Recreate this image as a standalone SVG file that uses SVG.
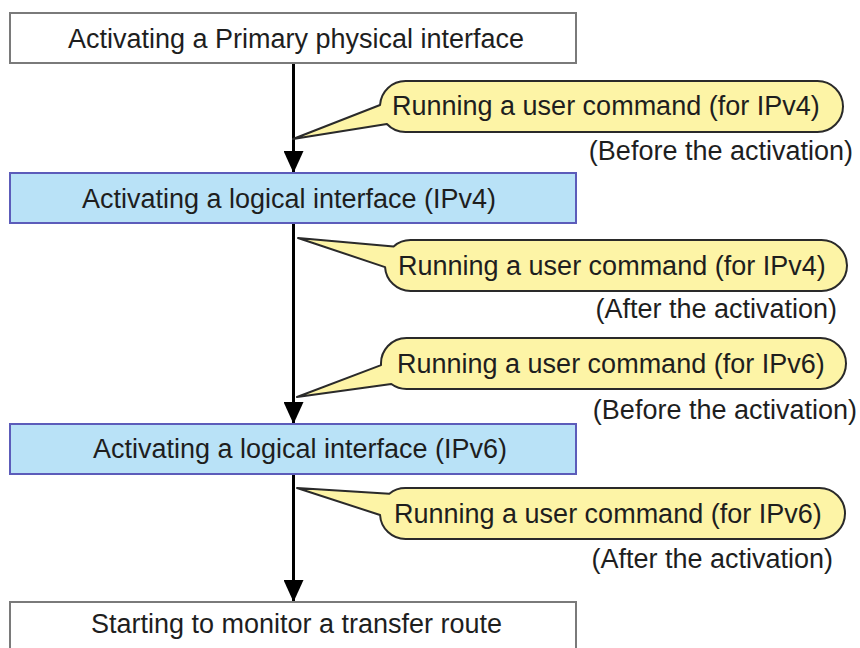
<svg xmlns="http://www.w3.org/2000/svg" width="860" height="648" viewBox="0 0 860 648">
<defs>
<style>
.t{font-family:"Liberation Sans",Arial,sans-serif;font-size:27px;fill:#1e1e1e}
.m{text-anchor:middle}
.e{text-anchor:end}
.plain{fill:#ffffff;stroke:#7a7a7a;stroke-width:2}
.blue{fill:#b9e2f7;stroke:#5c5cba;stroke-width:2}
.call{fill:#fdf4a6;stroke:#2a2a2a;stroke-width:2;stroke-linejoin:round}
.flow{stroke:#000;stroke-width:3;fill:none}
</style>
<marker id="ah" viewBox="0 0 22 20" refX="22" refY="10" markerWidth="22" markerHeight="20" markerUnits="userSpaceOnUse" orient="auto">
<path d="M0,0 L22,10 L0,20 Z" fill="#000"/>
</marker>
</defs>

<g id="connectors">
<line class="flow" x1="293.5" y1="63" x2="293.5" y2="173" marker-end="url(#ah)"/>
<line class="flow" x1="293.5" y1="223" x2="293.5" y2="424" marker-end="url(#ah)"/>
<line class="flow" x1="293.5" y1="474" x2="293.5" y2="602" marker-end="url(#ah)"/>
</g>

<g id="n1">
<rect class="plain" x="10" y="13" width="566" height="50"/>
<text class="t m" x="296" y="47.5">Activating a Primary physical interface</text>
</g>

<g id="c1">
<path class="call" d="M405.5,81 H817.5 A25.5,25.5 0 0 1 817.5,132 H405.5 A25.5,25.5 0 0 1 386.9,124 L293,139 L380.05,105 A25.5,25.5 0 0 1 405.5,81 Z"/>
<text class="t" x="392" y="115">Running a user command (for IPv4)</text>
<text class="t e" x="853" y="160">(Before the activation)</text>
</g>

<g id="n2">
<rect class="blue" x="10" y="173" width="566" height="50"/>
<text class="t m" x="289" y="207.5">Activating a logical interface (IPv4)</text>
</g>

<g id="c2">
<path class="call" d="M410.5,240 H821.5 A25.5,25.5 0 0 1 821.5,291 H410.5 A25.5,25.5 0 0 1 385.05,267.1 L298,238 L393.6,246.4 A25.5,25.5 0 0 1 410.5,240 Z"/>
<text class="t" x="398" y="275">Running a user command (for IPv4)</text>
<text class="t e" x="837" y="318">(After the activation)</text>
</g>

<g id="c3">
<path class="call" d="M406.5,338 H820.5 A25.5,25.5 0 0 1 820.5,389 H406.5 A25.5,25.5 0 0 1 391.3,384 L297,397 L381.05,365.06 A25.5,25.5 0 0 1 406.5,338 Z"/>
<text class="t" x="397" y="373">Running a user command (for IPv6)</text>
<text class="t e" x="857" y="419">(Before the activation)</text>
</g>

<g id="n3">
<rect class="blue" x="10" y="424" width="566" height="50"/>
<text class="t m" x="300" y="458">Activating a logical interface (IPv6)</text>
</g>

<g id="c4">
<path class="call" d="M405.5,488 H819.5 A25.5,25.5 0 0 1 819.5,539 H405.5 A25.5,25.5 0 0 1 380.05,515 L297,488 L389.3,493.7 A25.5,25.5 0 0 1 405.5,488 Z"/>
<text class="t" x="394" y="523">Running a user command (for IPv6)</text>
<text class="t e" x="833" y="568">(After the activation)</text>
</g>

<g id="n4">
<rect class="plain" x="10" y="602" width="566" height="52"/>
<text class="t m" x="296.5" y="633">Starting to monitor a transfer route</text>
</g>
</svg>
